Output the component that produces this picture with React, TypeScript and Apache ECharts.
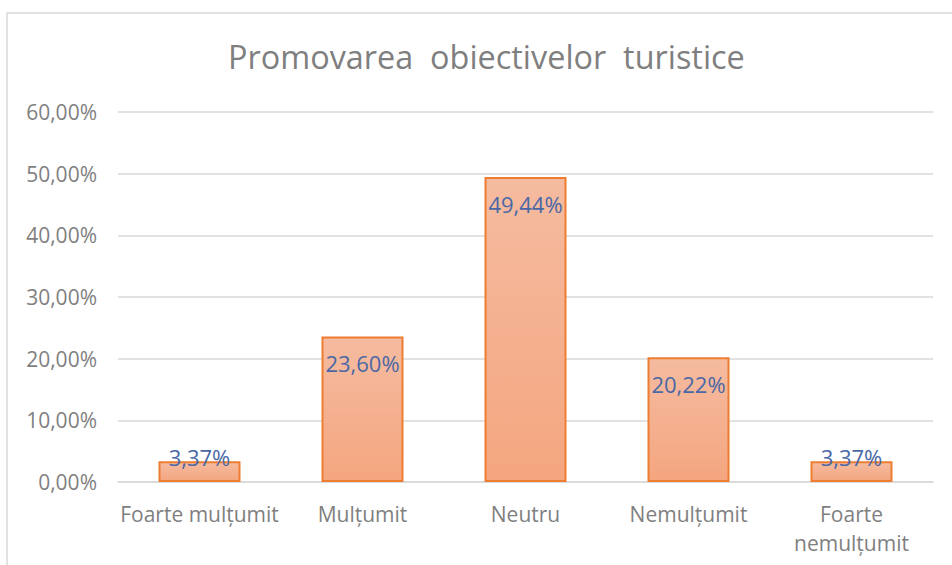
import React, { useEffect, useRef } from "react";
import * as echarts from "echarts";

const categories = ["Foarte mulțumit", "Mulțumit", "Neutru", "Nemulțumit", "Foarte\nnemulțumit"];
const values = [3.37, 23.6, 49.44, 20.22, 3.37];
const titleText = "Promovarea  obiectivelor  turistice";

const fmt = (v: number) => v.toFixed(2).replace(".", ",") + "%";

export default function App() {
  const ref = useRef<HTMLDivElement>(null);
  useEffect(() => {
    if (!ref.current) return;
    const chart = echarts.init(ref.current, null, { renderer: "svg" });
    const font = "'Open Sans', 'Noto Sans', sans-serif";
    chart.setOption({
      animation: false,
      backgroundColor: "#ffffff",
      title: {
        text: titleText,
        left: 228,
        top: 40,
        itemGap: 0,
        padding: 0,
        textStyle: { fontFamily: font, fontSize: 32.4, fontWeight: "normal", color: "#7f7f7f" },
      },
      graphic: [
        {
          type: "rect",
          shape: { x: 7, y: 13, width: 1000, height: 700 },
          style: { fill: "none", stroke: "#d9d9d9", lineWidth: 1.5 },
          silent: true,
        },
      ],
      grid: { left: 118, right: 19, top: 112, bottom: 83 },
      xAxis: {
        type: "category",
        data: categories,
        axisLine: { show: true, lineStyle: { color: "#d9d9d9", width: 1.5 } },
        axisTick: { show: false },
        axisLabel: {
          interval: 0,
          margin: 17,
          color: "#7f7f7f",
          fontFamily: font,
          fontSize: 21,
          lineHeight: 29,
        },
      },
      yAxis: {
        type: "value",
        min: 0,
        max: 60,
        interval: 10,
        axisLine: { show: false },
        axisTick: { show: false },
        splitLine: { lineStyle: { color: "#d9d9d9", width: 1.5 } },
        axisLabel: {
          margin: 21,
          color: "#7f7f7f",
          fontFamily: font,
          fontSize: 21,
          formatter: (v: number) => fmt(v),
        },
      },
      series: [
        {
          type: "bar",
          barWidth: 82,
          data: values.map((v) =>
            v < 6
              ? { value: v, label: { position: "top", distance: -7 } }
              : { value: v }
          ),
          itemStyle: {
            color: new echarts.graphic.LinearGradient(0, 0, 0, 1, [
              { offset: 0, color: "#F5BBA0" },
              { offset: 1, color: "#F4A67F" },
            ]),
            borderColor: "#ED7D31",
            borderWidth: 2,
          },
          label: {
            show: true,
            position: "insideTop",
            distance: 16,
            color: "#4A68A6",
            fontFamily: font,
            fontSize: 22,
            formatter: (p: any) => fmt(p.value),
          },
        },
      ],
    });
    return () => chart.dispose();
  }, []);
  return (
    <div
      ref={ref}
      style={{ position: "fixed", left: 0, top: 0, width: 952, height: 565 }}
    />
  );
}
